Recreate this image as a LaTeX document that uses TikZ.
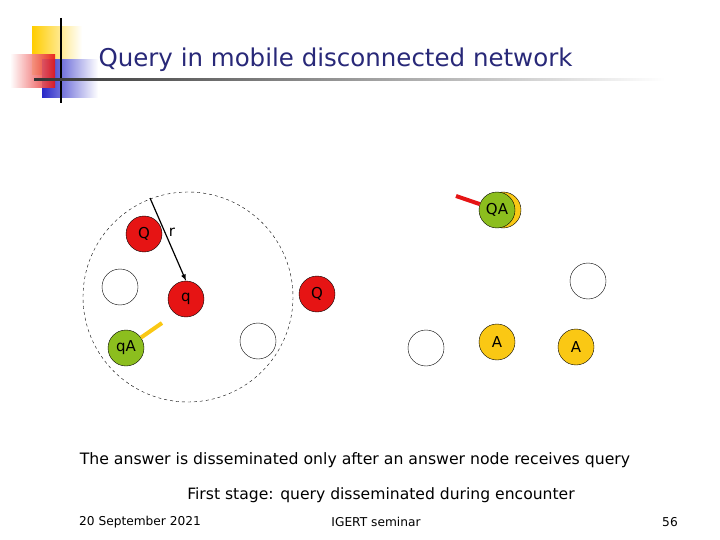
\documentclass[tikz,border=0pt]{standalone}
\usepackage{fontspec}
\setmainfont{DejaVu Sans}
\definecolor{cred}{RGB}{230,20,20}
\definecolor{cgrn}{RGB}{140,190,30}
\definecolor{cyel}{RGB}{250,200,20}
\definecolor{ctitle}{RGB}{40,40,120}
\definecolor{cblue}{RGB}{40,40,200}
\definecolor{cgold}{RGB}{255,205,0}
\begin{document}
\begin{tikzpicture}[x=1pt,y=-1pt,
 nd/.style={circle,draw,minimum size=36pt,inner sep=0pt,font=\fontsize{15}{17}\selectfont},
 red/.style={nd,fill=cred},
 grn/.style={nd,fill=cgrn},
 yel/.style={nd,fill=cyel},
 emp/.style={nd,fill=white},
 txt/.style={font=\fontsize{15}{17}\selectfont}]
\useasboundingbox (0,0) rectangle (720,540);
% logo
\shade[left color=cgold,right color=white] (32,27) rectangle (82,75);
\shade[left color=cblue,right color=white] (42,60) rectangle (98,98);
\shade[left color=white,right color=cred,opacity=0.9] (10,55) rectangle (55,88);
\draw[line width=1.5pt] (61,18) -- (61,103);
\shade[left color=black!80,right color=white] (34,79) rectangle (665,81);
\node[anchor=west,font=\fontsize{24.5}{28}\selectfont,text=ctitle] (title) at (95,60) {Query in mobile disconnected network};
% range
\draw[dashed] (188,297) circle (105);
\node[red] (Q1) at (144,234) {Q};
\node[emp] (e1) at (120,287) {};
\node[red] (q) at (186,299) {q};
\coordinate (rs) at (150,198);
\draw[-latex,line width=1.2pt] (rs) -- (q.north);
\node[txt] (r) at (172,232) {r};
\node[grn] (qA) at (126,348) {qA};
\coordinate (yb) at (162,323);
\draw[line width=4pt,cyel] (qA) -- (yb);
\node[emp] (e2) at (258,341) {};
\node[red] (Q2) at (317,294) {Q};
\node[yel] (QAy) at (503,210) {};
\node[grn] (QA) at (497,210) {QA};
\coordinate (rb) at (456,196);
\draw[line width=4pt,cred] (QA) -- (rb);
\node[emp] (e3) at (588,281) {};
\node[emp] (e4) at (426,348) {};
\node[yel] (A1) at (497,342) {A};
\node[yel] (A2) at (576,347) {A};
\node[font=\fontsize{15.7}{18}\selectfont] (t1) at (355,460) {The answer is disseminated only after an answer node receives query};
\node[font=\fontsize{15.6}{18}\selectfont] (t2) at (381,495) {First stage: query disseminated during encounter};
\node[font=\fontsize{12.2}{14}\selectfont] (f1) at (140,522) {20 September 2021};
\node[font=\fontsize{12.2}{14}\selectfont] (f2) at (376,522) {IGERT seminar};
\node[font=\fontsize{12.2}{14}\selectfont] (f3) at (670,522) {56};
\end{tikzpicture}
\end{document}
